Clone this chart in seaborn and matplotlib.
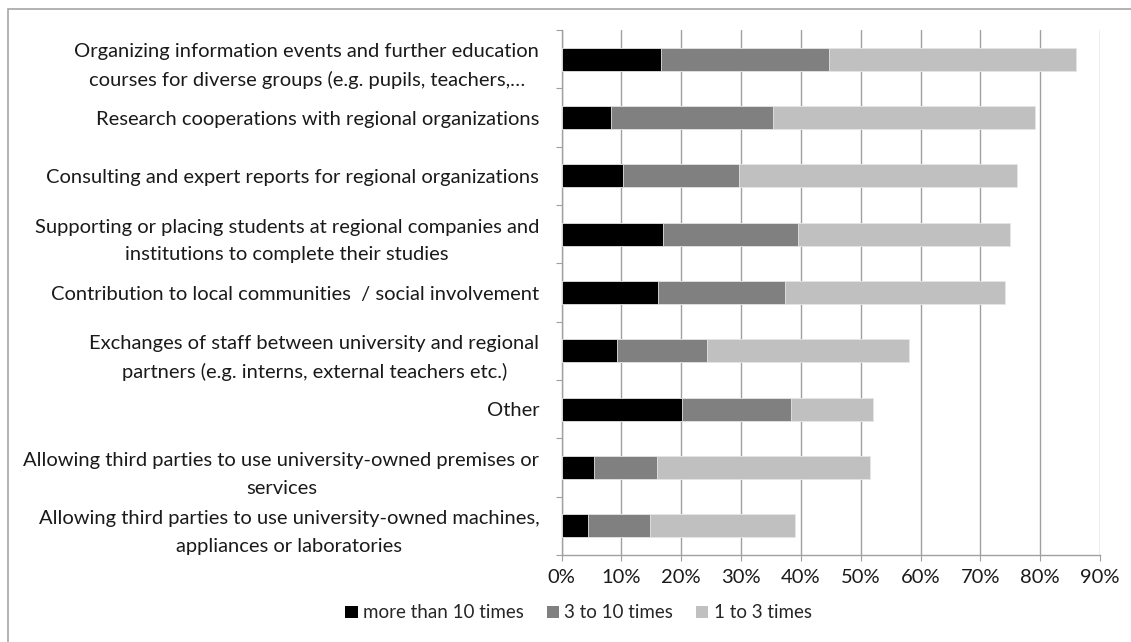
import matplotlib
matplotlib.use("Agg")
import matplotlib.pyplot as plt
import seaborn as sns
import pandas as pd
import numpy as np
from matplotlib.patches import Patch, Rectangle
from matplotlib.ticker import FixedLocator, PercentFormatter

categories = [
    "Organizing information events and further education\ncourses for diverse groups (e.g. pupils, teachers,\u2026",
    "Research cooperations with regional organizations",
    "Consulting and expert reports for regional organizations",
    "Supporting or placing students at regional companies and\ninstitutions to complete their studies",
    "Contribution to local communities  / social involvement",
    "Exchanges of staff between university and regional\npartners (e.g. interns, external teachers etc.)",
    "Other",
    "Allowing third parties to use university-owned premises or\nservices",
    "Allowing third parties to use university-owned machines,\nappliances or laboratories",
]
more_than_10 = [16.7, 8.3, 10.3, 16.9, 16.2, 9.3, 20.2, 5.5, 4.5]
three_to_10 = [28.0, 27.0, 19.4, 22.6, 21.1, 15.1, 18.1, 10.5, 10.3]
one_to_3 = [41.3, 43.9, 46.4, 35.5, 36.9, 33.6, 13.8, 35.5, 24.3]
series_names = ["more than 10 times", "3 to 10 times", "1 to 3 times"]
series_colors = ["#000000", "#808080", "#C0C0C0"]
x_ticks = [0, 10, 20, 30, 40, 50, 60, 70, 80, 90]

sns.set_theme(style="white")
plt.rcParams["font.family"] = ["Lato", "DejaVu Sans"]

df = pd.DataFrame({"category": categories,
                   "s1": more_than_10, "s2": three_to_10, "s3": one_to_3})
df["c1"] = df["s1"]
df["c2"] = df["s1"] + df["s2"]
df["c3"] = df["c2"] + df["s3"]

W, H = 1131, 642
fig = plt.figure(figsize=(W / 100, H / 100), dpi=100)
ax = fig.add_axes([561.5 / W, 1 - 555 / H, (1100 - 561.5) / W, (555 - 30) / H])

for col, color in zip(["c3", "c2", "c1"], series_colors[::-1]):
    sns.barplot(data=df, x=col, y="category", order=categories, color=color,
                width=0.39, ax=ax, orient="h", linewidth=0.6, edgecolor="#E6E6E6",
                saturation=1, zorder=3)

ax.set_xlim(0, 90)
ax.set_ylim(len(categories) - 0.5, -0.5)
ax.set_xlabel("")
ax.set_ylabel("")
ax.xaxis.set_major_locator(FixedLocator(x_ticks))
ax.xaxis.set_major_formatter(PercentFormatter(decimals=0))
ax.grid(axis="x", color="#A0A0A0", linewidth=1.0, zorder=0)
ax.grid(axis="y", visible=False)
for side in ["top", "right"]:
    ax.spines[side].set_visible(False)
for side in ["left", "bottom"]:
    ax.spines[side].set_color("#A0A0A0")
    ax.spines[side].set_linewidth(1.0)

fs = 14.5
ax.tick_params(axis="x", length=4, width=0.8, color="#A0A0A0", pad=6,
               labelsize=fs, labelcolor="#1a1a1a", bottom=True)
ax.tick_params(axis="y", which="major", length=0, pad=16, labelsize=fs,
               labelcolor="#1a1a1a")
ax.yaxis.set_minor_locator(FixedLocator(np.arange(-0.5, len(categories), 1.0)))
ax.tick_params(axis="y", which="minor", length=4, width=0.8, color="#A0A0A0", left=True)
for lab in ax.get_yticklabels():
    lab.set_multialignment("center")
    lab.set_linespacing(1.75)

handles = [Patch(facecolor=c, edgecolor="none", label=n) for n, c in zip(series_names, series_colors)]
fig.legend(handles=handles, loc="center", bbox_to_anchor=(0.5 + 13 / W, 1 - 613 / H), ncol=3,
           frameon=False, fontsize=fs - 1, handlelength=0.65, handleheight=0.65,
           handletextpad=0.3, columnspacing=1.2)

fig.patches.append(Rectangle((8 / W, -0.05), 1.2, 1 - 9 / H + 0.05, transform=fig.transFigure,
                             fill=False, edgecolor="#A6A6A6", linewidth=1.2))

fig.savefig("out.png", dpi=100)
